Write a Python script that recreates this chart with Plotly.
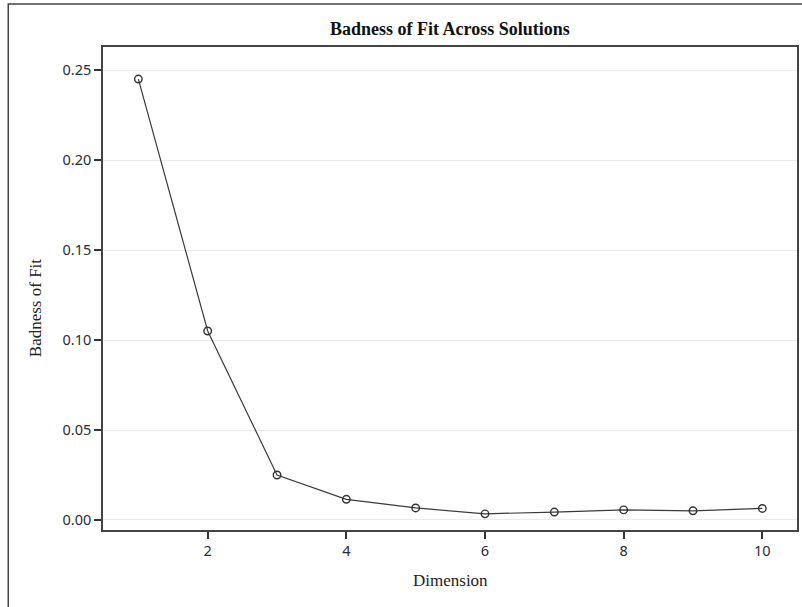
import plotly.graph_objects as go

dimension = [1, 2, 3, 4, 5, 6, 7, 8, 9, 10]
badness = [0.245, 0.105, 0.025, 0.0115, 0.0067, 0.0034, 0.0044, 0.0056, 0.0051, 0.0064]
x_ticks = [2, 4, 6, 8, 10]
y_ticks = [0.00, 0.05, 0.10, 0.15, 0.20, 0.25]
y_tick_labels = ["0.00", "0.05", "0.10", "0.15", "0.20", "0.25"]

W, H = 802, 607
L, R, T, B = 103, 3, 47, 77
pw, ph = W - L - R, H - T - B

serif = "Liberation Serif, Times New Roman, serif"
sans = "Noto Sans, Open Sans, sans-serif"

fig = go.Figure()
fig.add_trace(go.Scatter(
    x=dimension, y=badness, mode="lines+markers",
    line=dict(color="#3a3a3a", width=1.2),
    marker=dict(symbol="circle-open", size=7.5, color="#333333", line=dict(width=1.4)),
    showlegend=False,
))

axis_common = dict(
    showline=True, linecolor="#444444", linewidth=1.5, mirror=True,
    ticks="outside", ticklen=7, tickcolor="#333333", tickwidth=1.5,
    tickfont=dict(family=sans, size=14.5, color="#2a2a3a"),
    zeroline=False,
)

fig.update_xaxes(range=[0.49, 10.5], tickvals=x_ticks, showgrid=False, **axis_common)
fig.update_yaxes(range=[-0.00556, 0.2628], tickvals=y_ticks, ticktext=y_tick_labels,
                 showgrid=True, gridcolor="#ebebeb", gridwidth=1.2, **axis_common)

fig.update_layout(
    width=W, height=H,
    margin=dict(l=L, r=R, t=T, b=B, pad=0),
    plot_bgcolor="white", paper_bgcolor="white",
    font=dict(family=serif, color="#222222"),
)

# Title
fig.add_annotation(text="<b>Badness of Fit Across Solutions</b>", xref="paper", yref="paper",
                   x=0.5, y=1 + (T - 29) / ph, yanchor="middle", xanchor="center",
                   showarrow=False, font=dict(family=serif, size=18, color="#111111"))
# Axis titles
fig.add_annotation(text="Dimension", xref="paper", yref="paper",
                   x=0.5, y=-(580 - (T + ph)) / ph, yanchor="middle", xanchor="center",
                   showarrow=False, font=dict(family=serif, size=17, color="#222222"))
fig.add_annotation(text="Badness of Fit", xref="paper", yref="paper", textangle=-90,
                   x=(35 - L) / pw, y=1 - (308 - T) / ph, yanchor="middle", xanchor="center",
                   showarrow=False, font=dict(family=serif, size=17, color="#222222"))

# Outer frame (top and left edges visible)
fig.add_shape(type="rect", xref="paper", yref="paper",
              x0=(8 - L) / pw, x1=(W + 20 - L) / pw,
              y0=1 - (H + 20 - T) / ph, y1=1 - (4 - T) / ph,
              line=dict(color="#444444", width=1.5), layer="above")

fig.write_html("out.html", config={"displayModeBar": False},
               post_script="document.body.style.margin='0px';")
